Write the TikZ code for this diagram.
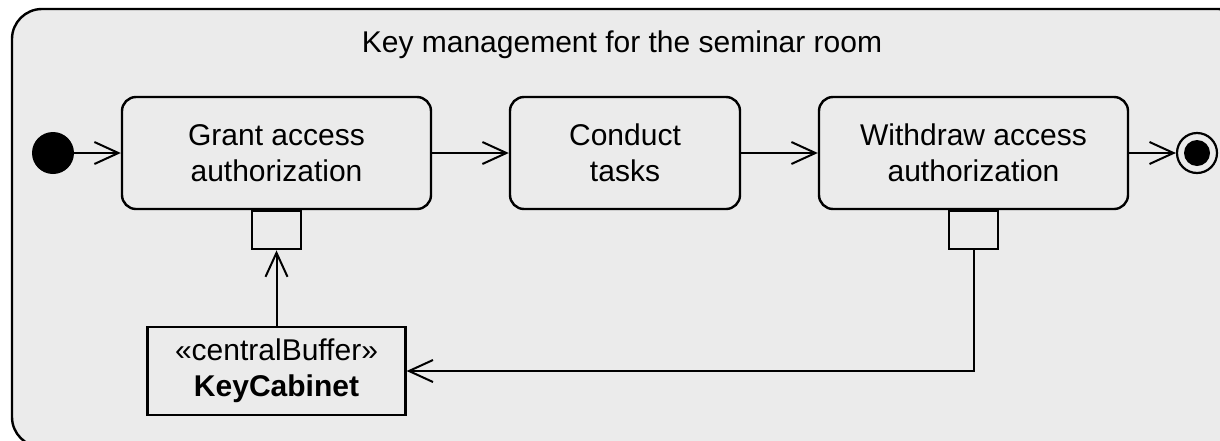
\documentclass[tikz,border=0pt]{standalone}
\usepackage{fontspec}
\setmainfont{Liberation Sans}
\usetikzlibrary{arrows.meta}
\definecolor{framegrey}{RGB}{235,235,235}
\tikzset{
    action/.style={draw,line width=1.2pt,rounded corners=7pt,fill=framegrey,
        minimum width=154.5pt,minimum height=56pt,align=center,inner sep=0pt},
    pin/.style={draw,line width=1.1pt,fill=framegrey,minimum width=24.5pt,
        minimum height=19pt,inner sep=0pt,anchor=north},
    buffer/.style={draw,line width=1.1pt,fill=framegrey,minimum width=129pt,
        minimum height=44pt,align=center,inner sep=0pt},
    flow/.style={line width=1pt,-{Straight Barb[length=12pt,width=11pt,line width=1pt]}}
}
\begin{document}
\begin{tikzpicture}[x=0.5pt,y=-0.5pt,font=\fontsize{15}{18}\selectfont]
        \useasboundingbox (0,0) rectangle (1220,440);
        \fill[white] (0,0) rectangle (1220,440);
        \draw[line width=1.2pt,fill=framegrey,rounded corners=15pt] (12,9) rectangle (1248,447);
        \node[anchor=base] (title) at (622,52) {Key management for the seminar room};
        \fill (53,153) circle[radius=10.5pt] coordinate (start);
        \node[action] (grant) at (276.5,153) {Grant access\\authorization};
        \node[action,minimum width=115pt] (conduct) at (625,153) {Conduct\\tasks};
        \node[action] (withdraw) at (973.5,153) {Withdraw access\\authorization};
        \node[draw,circle,line width=1.1pt,minimum size=20pt,inner sep=0pt] (final) at (1197,153) {};
        \fill (final) circle[radius=6.5pt];
        \node[pin] (grantpin) at (grant.south) {};
        \node[pin] (withdrawpin) at (withdraw.south) {};
        \node[buffer] (cabinet) at (276.5,371) {«centralBuffer»\\\textbf{KeyCabinet}};
        \draw[flow] (start) ++(10.5pt,0) -- (grant);
        \draw[flow] (grant) -- (conduct);
        \draw[flow] (conduct) -- (withdraw);
        \draw[flow] (withdraw) -- (final);
        \draw[flow] (cabinet) -- (grantpin);
        \draw[flow] (withdrawpin) |- (cabinet);
\end{tikzpicture}
\end{document}
